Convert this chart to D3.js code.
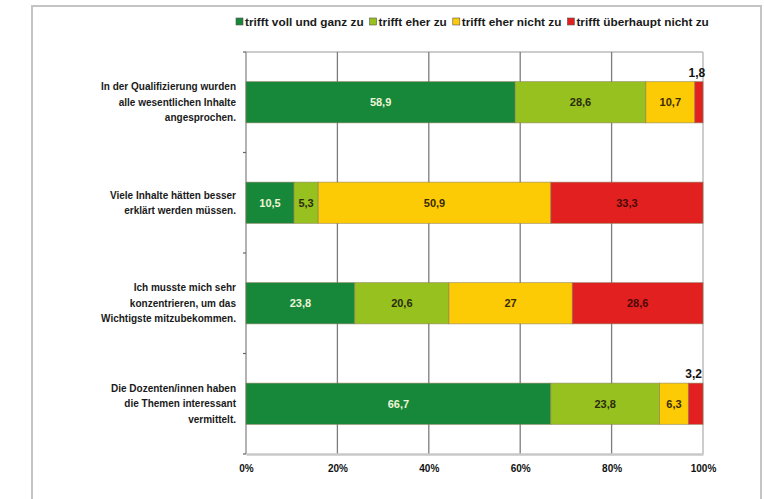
<!DOCTYPE html>
<html>
<head>
<meta charset="utf-8">
<script src="https://cdn.jsdelivr.net/npm/d3@7"></script>
<style>
  html, body { margin: 0; padding: 0; background: #fff; }
  svg { display: block; }
  text { font-family: "Liberation Sans Narrow", "Arial Narrow", "Liberation Sans", Arial, sans-serif; font-weight: bold; }
</style>
</head>
<body>
<svg id="chart" width="764" height="499"></svg>
<script>
// Survey statements (each shown on several lines)
const statements = [
  ["In der Qualifizierung wurden", "alle wesentlichen Inhalte", "angesprochen."],
  ["Viele Inhalte hätten besser", "erklärt werden müssen."],
  ["Ich musste mich sehr", "konzentrieren, um das", "Wichtigste mitzubekommen."],
  ["Die Dozenten/innen haben", "die Themen interessant", "vermittelt."]
];
const answerLabels = ["trifft voll und ganz zu", "trifft eher zu", "trifft eher nicht zu", "trifft überhaupt nicht zu"];
const answerColors = ["#17873a", "#97c11e", "#fdcb06", "#e2201f"];
const labelColors = ["#eef5d8", "#2b2b10", "#3a2a00", "#4a0a0a"];

// Percentages per statement, one array per answer
const vollUndGanz = [58.9, 10.5, 23.8, 66.7];
const eher = [28.6, 5.3, 20.6, 23.8];
const eherNicht = [10.7, 50.9, 27, 6.3];
const ueberhauptNicht = [1.8, 33.3, 28.6, 3.2];
const tickValues = [0, 20, 40, 60, 80, 100];

const series = [vollUndGanz, eher, eherNicht, ueberhauptNicht];
const rows = statements.map((s, i) => {
  const r = { id: i };
  answerLabels.forEach((a, k) => { r[a] = series[k][i]; });
  return r;
});
const stacked = d3.stack().keys(answerLabels)(rows);

const svg = d3.select("#chart");

// outer frame
svg.append("rect").attr("x", 32).attr("y", 6).attr("width", 729).attr("height", 520)
  .attr("fill", "none").attr("stroke", "#c4c4c4").attr("stroke-width", 2);

const plot = { left: 246, right: 703, top: 52, bottom: 454 };
const x = d3.scaleLinear().domain([0, 100]).range([plot.left, plot.right]);
const y = d3.scaleBand().domain(d3.range(statements.length)).range([plot.top, plot.bottom]).paddingInner(0.59).paddingOuter(0.295);

// plot frame top/right
svg.append("line").attr("x1", plot.left).attr("x2", plot.right).attr("y1", plot.top).attr("y2", plot.top)
  .attr("stroke", "#9a9a9a").attr("stroke-width", 1.2);
svg.append("line").attr("x1", plot.right).attr("x2", plot.right).attr("y1", plot.top).attr("y2", plot.bottom)
  .attr("stroke", "#bdbdbd").attr("stroke-width", 1.5);

// vertical gridlines
svg.append("g").selectAll("line").data(tickValues.slice(1, -1)).join("line")
  .attr("x1", d => x(d)).attr("x2", d => x(d))
  .attr("y1", plot.top).attr("y2", plot.bottom)
  .attr("stroke", "#7d7d7d").attr("stroke-width", 1.3);

// left axis line and small ticks between categories
svg.append("line").attr("x1", plot.left).attr("x2", plot.left).attr("y1", plot.top).attr("y2", plot.bottom)
  .attr("stroke", "#8a8a8a").attr("stroke-width", 1.3);
const step = (plot.bottom - plot.top) / statements.length;
svg.append("g").selectAll("line").data(d3.range(statements.length + 1)).join("line")
  .attr("x1", plot.left - 3).attr("x2", plot.left)
  .attr("y1", d => plot.top + d * step).attr("y2", d => plot.top + d * step)
  .attr("stroke", "#666").attr("stroke-width", 1.2);

// bottom axis
const xAxis = d3.axisBottom(x).tickValues(tickValues).tickFormat(d => d + "%").tickSize(0).tickPadding(11);
const gx = svg.append("g").attr("transform", `translate(0,${plot.bottom})`).call(xAxis);
gx.select(".domain").attr("stroke", "#c8c8c8").attr("stroke-width", 2.5);
gx.selectAll("text").attr("font-size", 10).attr("fill", "#111");

// stacked bars
const layers = svg.append("g").selectAll("g").data(stacked).join("g")
  .attr("fill", (d, k) => answerColors[k]);
layers.selectAll("rect").data(d => d).join("rect")
  .attr("x", d => x(d[0]))
  .attr("width", d => x(d[1]) - x(d[0]))
  .attr("y", (d, i) => y(i))
  .attr("height", y.bandwidth())
  .attr("stroke", "#8a7f5a").attr("stroke-width", 0.8).attr("stroke-opacity", 0.7);

// value labels
const fmt = v => String(v).replace(".", ",");
stacked.forEach((layer, k) => {
  layer.forEach((d, i) => {
    const v = series[k][i];
    const w = x(d[1]) - x(d[0]);
    const cx = (x(d[0]) + x(d[1])) / 2;
    if (w > 15) {
      svg.append("text").attr("x", cx).attr("y", y(i) + y.bandwidth() / 2 + 4)
        .attr("text-anchor", "middle").attr("font-size", 11)
        .attr("fill", labelColors[k]).text(fmt(v));
    } else {
      svg.append("text").attr("x", cx - 2).attr("y", y(i) - 5)
        .attr("text-anchor", "middle").attr("font-size", 12)
        .attr("fill", "#111").text(fmt(v));
    }
  });
});

// statement labels
statements.forEach((lines, i) => {
  const cy = y(i) + y.bandwidth() / 2;
  const lh = 15.5;
  const t = svg.append("text").attr("text-anchor", "end").attr("font-size", 10).attr("fill", "#1a1a1a");
  lines.forEach((ln, j) => {
    t.append("tspan").attr("x", 236)
      .attr("y", cy + (j - (lines.length - 1) / 2) * lh + 3.5).text(ln);
  });
});

// legend: entries laid out one after another
const legend = svg.append("g").attr("transform", "translate(236,22)");
let cursor = 0;
answerLabels.forEach((label, k) => {
  const g = legend.append("g").attr("transform", `translate(${cursor},0)`);
  g.append("rect").attr("x", 0).attr("y", -4).attr("width", 7).attr("height", 7)
    .attr("fill", answerColors[k]).attr("stroke", "#555").attr("stroke-width", 0.6);
  const t = g.append("text").attr("x", 9).attr("y", 4).attr("font-size", 11.8)
    .attr("fill", "#1a1a1a").text(label);
  cursor += 9 + t.node().getComputedTextLength() + 6;
});
</script>
</body>
</html>
